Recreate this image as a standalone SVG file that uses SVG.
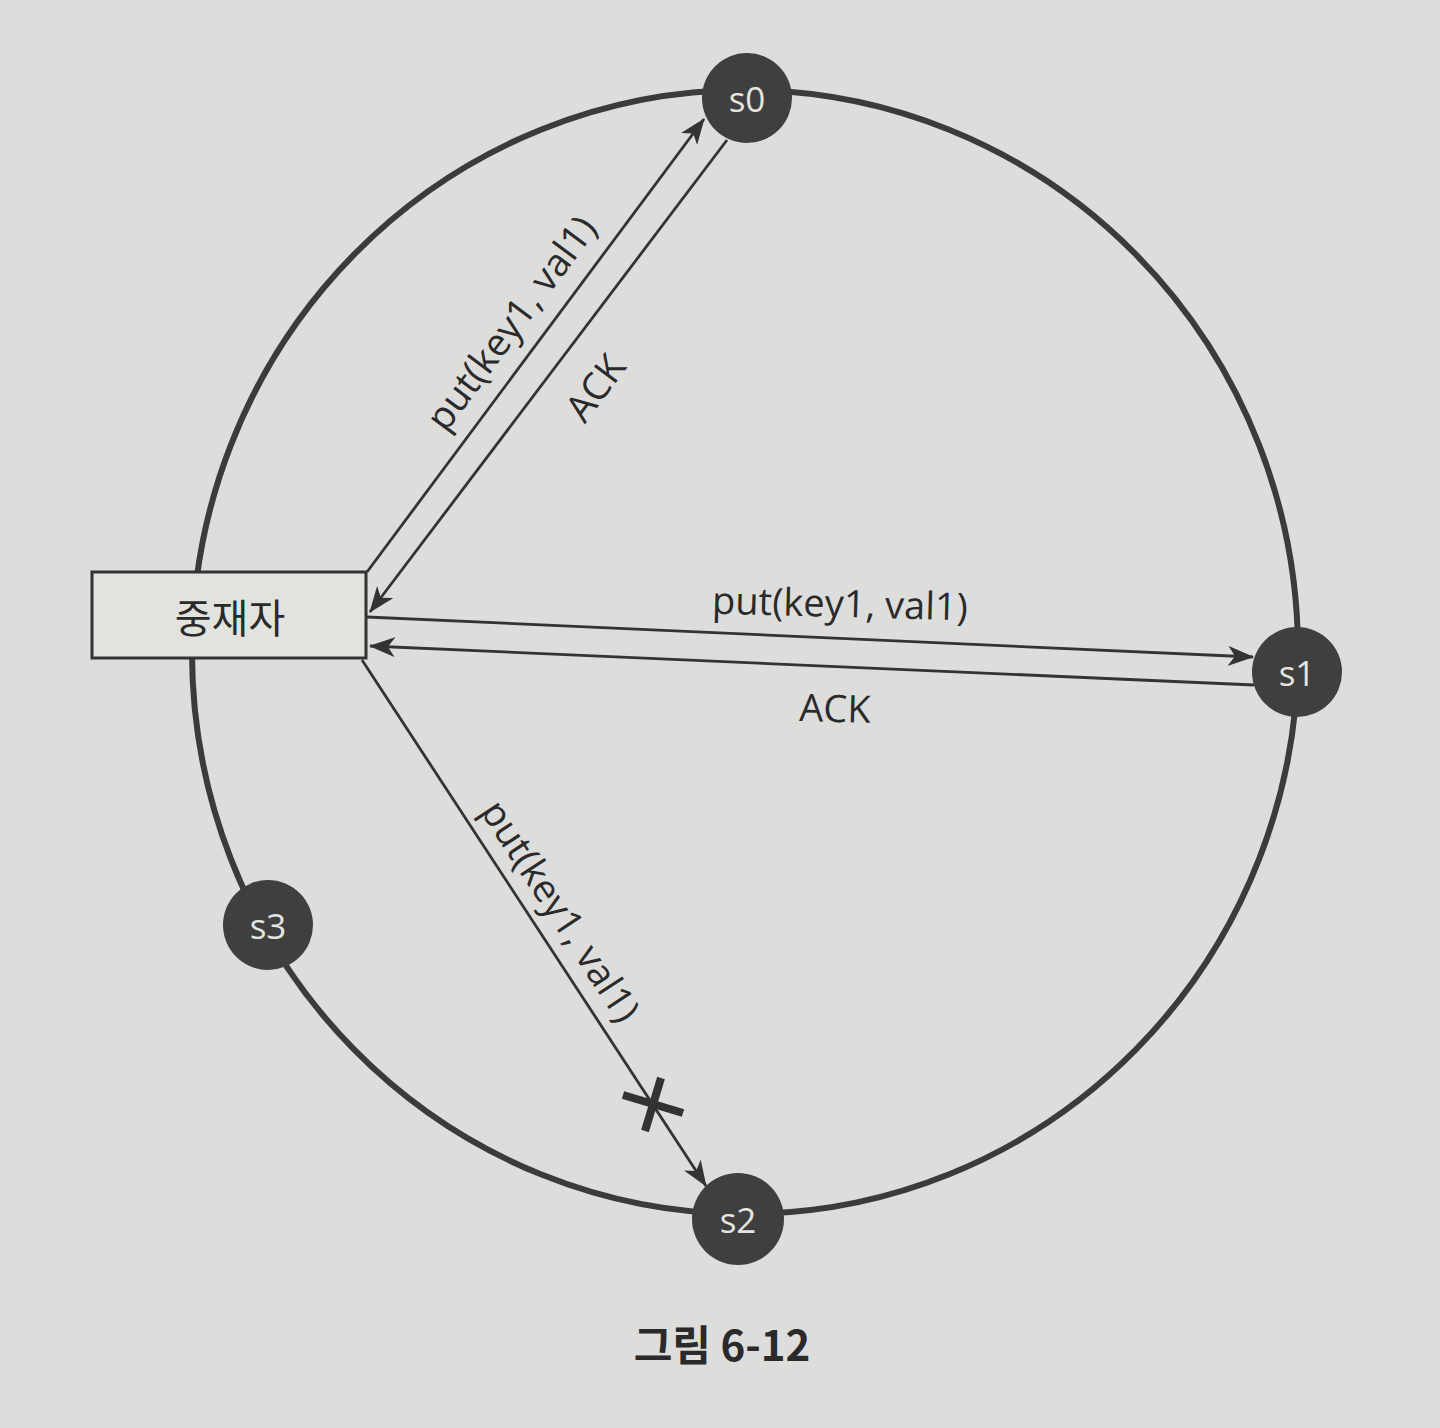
<svg xmlns="http://www.w3.org/2000/svg" width="1440" height="1428" viewBox="0 0 1440 1428">
<defs>
<style>
.ring{fill:none;stroke:#3b3b3b;stroke-width:6}
.node circle{fill:#3f3f3f}
.node text{fill:#e4e4e0;font-family:"Open Sans","Noto Sans",sans-serif;font-size:35px;text-anchor:middle;dominant-baseline:central}
.edge{stroke:#333;stroke-width:2.8;fill:none}
.lbl{fill:#2a2a2a;font-family:"Open Sans","Noto Sans",sans-serif;font-size:38px;text-anchor:middle;dominant-baseline:central}
</style>
<marker id="ah" viewBox="0 0 26 20" refX="25" refY="10" markerWidth="26" markerHeight="20" markerUnits="userSpaceOnUse" orient="auto">
<path d="M0,0 L26,10 L0,20 L7,10 Z" fill="#333"/>
</marker>
</defs>
<rect width="1440" height="1428" fill="#dddddb"/>
<ellipse class="ring" cx="745" cy="652" rx="553" ry="562"/>
<g id="connectors">
<line class="edge" x1="367" y1="572" x2="704" y2="119" marker-end="url(#ah)"/>
<line class="edge" x1="727" y1="140" x2="370" y2="612" marker-end="url(#ah)"/>
<line class="edge" x1="367" y1="617" x2="1253" y2="657" marker-end="url(#ah)"/>
<line class="edge" x1="1254" y1="685" x2="370" y2="646" marker-end="url(#ah)"/>
<line class="edge" x1="362" y1="660" x2="706" y2="1186" marker-end="url(#ah)"/>
<g id="fail-mark" stroke="#333" stroke-width="8">
<line x1="623" y1="1095" x2="683" y2="1113"/>
<line x1="661" y1="1078" x2="645" y2="1131"/>
</g>
<text class="lbl" transform="translate(510,322) rotate(-53.3)">put(key1, val1)</text>
<text class="lbl" transform="translate(594,387) rotate(-53.3)">ACK</text>
<text class="lbl" transform="translate(840,602) rotate(1.5)">put(key1, val1)</text>
<text class="lbl" transform="translate(835,707) rotate(1.5)">ACK</text>
<text class="lbl" transform="translate(562,910) rotate(56.8)">put(key1, val1)</text>
</g>
<g id="coordinator">
<rect x="92" y="572" width="274" height="86" fill="#e2e2df" stroke="#333" stroke-width="3"/>
<text x="230" y="616" font-family="Noto Sans CJK KR, sans-serif" font-size="40" fill="#2a2a2a" text-anchor="middle" dominant-baseline="central">중재자</text>
</g>
<g id="s0" class="node"><circle cx="747" cy="98" r="45"/><text x="747" y="98">s0</text></g>
<g id="s1" class="node"><circle cx="1297" cy="672" r="45"/><text x="1297" y="672">s1</text></g>
<g id="s2" class="node"><circle cx="738" cy="1219" r="46"/><text x="738" y="1219">s2</text></g>
<g id="s3" class="node"><circle cx="268" cy="925" r="45"/><text x="268" y="925">s3</text></g>
<text id="caption" x="722" y="1342" font-family="Noto Sans CJK KR, sans-serif" font-size="42" font-weight="bold" fill="#2a2a2a" text-anchor="middle" dominant-baseline="central">그림 6-12</text>
</svg>
